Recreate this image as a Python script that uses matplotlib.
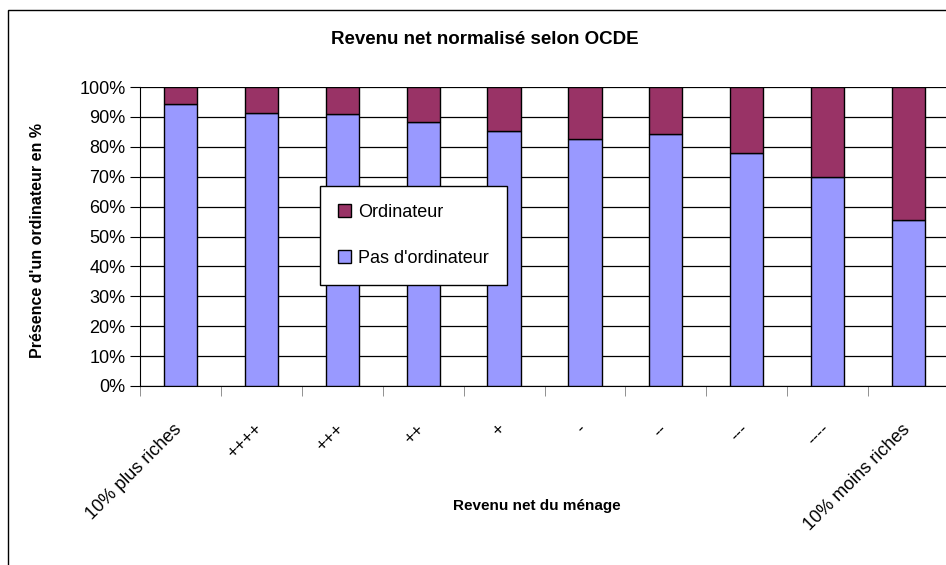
import matplotlib.pyplot as plt
from matplotlib.patches import Rectangle
from matplotlib.transforms import ScaledTranslation

# --- DATA ---
categories = ["10% plus riches", "++++", "+++", "++", "+", "-", "--", "---", "----",
              "10% moins riches"]
pas_ordi = [94.4, 91.4, 90.9, 88.4, 85.4, 82.7, 84.3, 77.8, 69.8, 55.6]
ordi = [100 - v for v in pas_ordi]

plt.rcParams["font.family"] = ["Liberation Sans", "DejaVu Sans"]

fig = plt.figure(figsize=(9.46, 5.65), dpi=100)
ax = fig.add_axes([140 / 946, 1 - 386 / 565, 809 / 946, 299 / 565])

# outer chart border
fig.patches.append(Rectangle((8 / 946, -0.1), 1.1, 1 - 10 / 565 + 0.1,
                             transform=fig.transFigure, fill=False,
                             edgecolor="black", linewidth=1))

x = list(range(len(categories)))
b1 = ax.bar(x, pas_ordi, width=0.41, color="#9999FF", edgecolor="black",
            linewidth=1, label="Pas d'ordinateur", zorder=3)
b2 = ax.bar(x, ordi, width=0.41, bottom=pas_ordi, color="#993366",
            edgecolor="black", linewidth=1, label="Ordinateur", zorder=3)

ax.set_xlim(-0.5, 9.5)
ax.set_ylim(0, 100)
ax.set_yticks(range(0, 101, 10))
ax.set_yticklabels([f"{v}%" for v in range(0, 101, 10)], fontsize=13)
ax.yaxis.grid(True, color="black", linewidth=0.9, zorder=0)

# category labels, rotated like the spreadsheet ones
ax.set_xticks(x)
ax.set_xticklabels([])
shift = ScaledTranslation(-7 / 100, -35 / 100, fig.dpi_scale_trans)
for i, lab in zip(x, categories):
    ax.text(i, 0, lab, transform=ax.get_xaxis_transform() + shift,
            rotation=45, ha="right", va="top", rotation_mode="anchor",
            fontsize=13)
ax.set_xticks([i - 0.5 for i in range(11)], minor=True)
ax.tick_params(axis="x", which="major", length=0)
ax.tick_params(axis="x", which="minor", length=7, color="gray", direction="out")
ax.tick_params(axis="y", length=7, direction="out")

for side in ["top", "right"]:
    ax.spines[side].set_visible(False)
ax.spines["left"].set_color("black")
ax.spines["bottom"].set_color("black")

fig.text(485 / 946, 1 - 40 / 565, "Revenu net normalisé selon OCDE",
         ha="center", va="center", fontsize=13.5, fontweight="bold")
fig.text(38 / 946, 1 - 241 / 565, "Présence d'un ordinateur en %",
         rotation=90, ha="center", va="center", fontsize=11.5, fontweight="bold")
fig.text(537 / 946, 1 - 506 / 565, "Revenu net du ménage",
         ha="center", va="center", fontsize=11, fontweight="bold")

ax.legend([b2, b1], ["Ordinateur", "Pas d'ordinateur"],
          loc="upper left", bbox_to_anchor=(0.2225, 0.669),
          fontsize=13, frameon=True, fancybox=False, edgecolor="black",
          framealpha=1, labelspacing=1.6, handlelength=0.7, handleheight=0.7,
          handletextpad=0.4, borderpad=1.0, borderaxespad=0)

fig.savefig("out.png", dpi=100)
